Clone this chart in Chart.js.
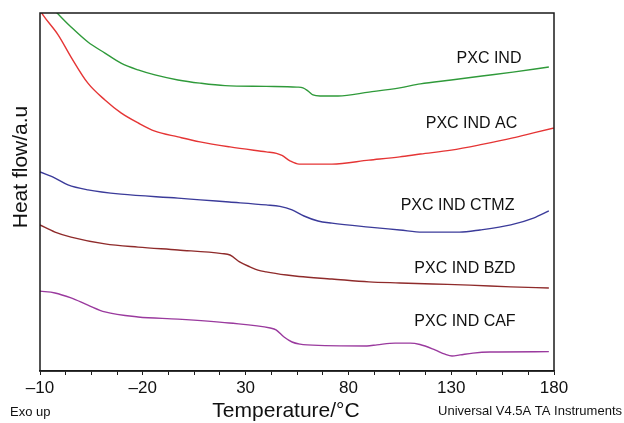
<!DOCTYPE html>
<html>
<head>
<meta charset="utf-8">
<script src="https://cdn.jsdelivr.net/npm/chart.js@4/dist/chart.umd.min.js"></script>
<style>
  html, body { margin: 0; padding: 0; background: #fff; }
  #wrap { width: 624px; height: 423px; position: relative; }
</style>
</head>
<body>
<div id="wrap"><canvas id="c" width="624" height="423"></canvas></div>
<script>
// ---- Data (temperature in axis units, heat flow in a.u.) ----
const xTickValues = [-70, -20, 30, 80, 130, 180];
const xTickLabels = ['–10', '–20', '30', '80', '130', '180'];

const seriesNames = ['PXC IND', 'PXC IND AC', 'PXC IND CTMZ', 'PXC IND BZD', 'PXC IND CAF'];
const seriesColors = ['#2f9a3a', '#e53535', '#3b3b9a', '#8f2b2b', '#9a3a9e'];

const pxcIndT  = [-70, -61.2, -54.9, -46.7, -38.4, -30.6, -22.3, -14.1, -2.9, 7.8, 20, 40, 55, 57.9, 60.4, 62.8, 66.2, 75, 90, 105, 115, 130, 145, 160, 177.5];
const pxcIndHF = [10.47, 9.97, 9.61, 9.19, 8.88, 8.60, 8.41, 8.27, 8.13, 8.04, 7.97, 7.95, 7.93, 7.91, 7.82, 7.71, 7.68, 7.68, 7.79, 7.91, 8.02, 8.13, 8.24, 8.35, 8.49];

const pxcIndAcT  = [-70, -68.5, -61.2, -54.9, -46.7, -38.4, -30.6, -22.3, -14.1, -2.9, 7.8, 22.4, 40, 45, 47.7, 51.6, 56, 72, 90, 105, 115, 130, 145, 160, 170, 180];
const pxcIndAcHF = [10.08, 9.94, 9.39, 8.77, 8.04, 7.57, 7.21, 6.93, 6.70, 6.54, 6.40, 6.26, 6.12, 6.08, 6.02, 5.87, 5.78, 5.78, 5.89, 5.98, 6.06, 6.17, 6.33, 6.51, 6.65, 6.79];

const pxcIndCtmzT  = [-70, -62.7, -56.4, -46.7, -30.6, -2.9, 8, 22, 40, 46.7, 52.6, 58.4, 65.2, 72, 90, 105, 116, 134, 144, 159, 170, 177.5];
const pxcIndCtmzHF = [5.56, 5.39, 5.20, 5.06, 4.94, 4.83, 4.78, 4.72, 4.64, 4.60, 4.50, 4.33, 4.19, 4.13, 4.02, 3.94, 3.88, 3.88, 3.94, 4.08, 4.27, 4.47];

const pxcIndBzdT  = [-70, -62.7, -54.9, -38.4, -22.3, -2.9, 18.5, 22.4, 27.3, 32.1, 36, 40, 50, 56, 72, 90, 105, 121, 139, 159, 177.5];
const pxcIndBzdHF = [4.08, 3.88, 3.74, 3.55, 3.46, 3.38, 3.28, 3.24, 3.04, 2.91, 2.82, 2.77, 2.68, 2.64, 2.57, 2.49, 2.46, 2.43, 2.40, 2.35, 2.32];

const pxcIndCafT  = [-70, -62.7, -54.9, -46.7, -38.4, -22.3, -2.9, 22, 42, 44.8, 48.7, 52.6, 56.5, 60, 89, 93.9, 102.7, 110, 114.8, 122.1, 127, 130.4, 134.3, 140.6, 148.9, 177.5];
const pxcIndCafHF = [2.23, 2.18, 2.04, 1.84, 1.65, 1.51, 1.45, 1.34, 1.20, 1.15, 0.95, 0.81, 0.75, 0.73, 0.70, 0.73, 0.78, 0.78, 0.74, 0.59, 0.47, 0.42, 0.45, 0.50, 0.53, 0.54];

// label anchors (axis units) for the curve annotations
const labelT  = [148.4, 139.9, 133.1, 136.7, 136.7];
const labelHF = [8.72, 6.90, 4.61, 2.85, 1.37];

const allT  = [pxcIndT, pxcIndAcT, pxcIndCtmzT, pxcIndBzdT, pxcIndCafT];
const allHF = [pxcIndHF, pxcIndAcHF, pxcIndCtmzHF, pxcIndBzdHF, pxcIndCafHF];

const FONT = "'Liberation Sans', Arial, Helvetica, sans-serif";

const datasets = seriesNames.map((name, i) => ({
  label: name,
  data: allT[i].map((t, k) => ({ x: t, y: allHF[i][k] })),
  borderColor: seriesColors[i],
  backgroundColor: seriesColors[i],
  borderWidth: 1.4,
  pointRadius: 0,
  fill: false,
  cubicInterpolationMode: 'monotone'
}));

const decorPlugin = {
  id: 'decor',
  afterDatasetsDraw(chart) {
    const { ctx, chartArea: a, scales } = chart;
    ctx.save();
    // frame
    ctx.strokeStyle = '#1a1a1a';
    ctx.lineWidth = 1.5;
    ctx.strokeRect(a.left, a.top, a.right - a.left, a.bottom - a.top);
    // curve labels
    ctx.fillStyle = '#111';
    ctx.font = '16px ' + FONT;
    ctx.textAlign = 'center';
    ctx.textBaseline = 'middle';
    seriesNames.forEach((n, i) => {
      ctx.fillText(n, scales.x.getPixelForValue(labelT[i]), scales.y.getPixelForValue(labelHF[i]));
    });
    ctx.restore();
  },
  afterDraw(chart) {
    const { ctx, chartArea: a } = chart;
    ctx.save();
    ctx.fillStyle = '#111';
    ctx.textBaseline = 'middle';
    // axis titles
    ctx.font = '21px ' + FONT;
    ctx.textAlign = 'center';
    ctx.fillText('Temperature/°C', a.left + 246, 411);
    ctx.save();
    ctx.translate(21, 167);
    ctx.rotate(-Math.PI / 2);
    ctx.fillText('Heat flow/a.u', 0, 0);
    ctx.restore();
    // footers
    ctx.font = '13px ' + FONT;
    ctx.textAlign = 'left';
    ctx.fillText('Exo up', 10, 412);
    ctx.textAlign = 'right';
    ctx.fillText('Universal V4.5A TA Instruments', 622, 411);
    ctx.restore();
  }
};

new Chart(document.getElementById('c'), {
  type: 'line',
  data: { datasets },
  options: {
    responsive: false,
    animation: false,
    devicePixelRatio: 1,
    layout: { padding: { left: 40, top: 13, right: 70, bottom: 0 } },
    plugins: { legend: { display: false }, tooltip: { enabled: false } },
    scales: {
      x: {
        type: 'linear',
        min: -70,
        max: 180,
        border: { display: true, color: '#1a1a1a', width: 1.5 },
        grid: { drawOnChartArea: false, drawTicks: true, tickLength: 4, color: '#1a1a1a', lineWidth: 1 },
        ticks: {
          stepSize: 12.5,
          autoSkip: false,
          maxRotation: 0,
          color: '#111',
          font: { size: 17, family: FONT },
          padding: 3,
          callback: (v) => {
            const idx = xTickValues.indexOf(v);
            return idx >= 0 ? xTickLabels[idx] : '';
          }
        },
        afterFit: (s) => { s.height = 52; }
      },
      y: {
        display: false,
        min: 0,
        max: 10
      }
    }
  },
  plugins: [decorPlugin]
});
</script>
</body>
</html>
